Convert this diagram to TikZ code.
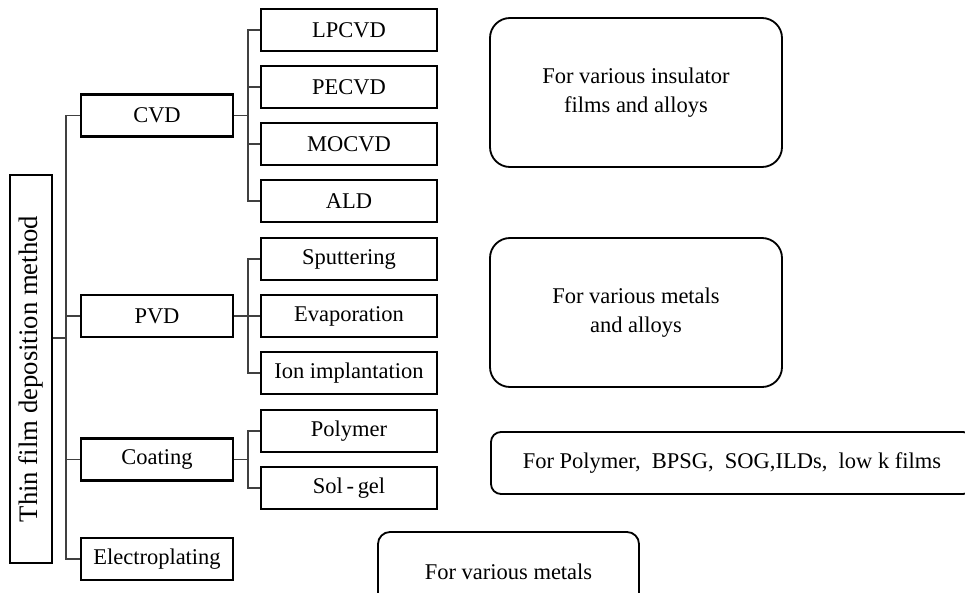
\documentclass[tikz,border=0pt]{standalone}
\usepackage{fontspec}
\setmainfont{Liberation Serif}
\begin{document}
\begin{tikzpicture}
% Define styles
\tikzset{
    box/.style={rectangle, draw=black, line width=1.6pt, minimum height=1.05cm, inner sep=0pt, font=\fontsize{16}{21}\selectfont},
    group/.style={box, minimum width=3.8cm},
    method/.style={box, minimum width=4.4cm},
    usage/.style={rectangle, draw=black, line width=1.3pt, rounded corners=0.5cm, align=center, inner sep=0pt, font=\fontsize{16}{21}\selectfont},
    link/.style={draw=black!75, line width=0.9pt}
}

% Page frame
\clip (0,0) rectangle (24.125,-14.8);

% Root box
\node[box, rotate=90, minimum width=9.7cm, font=\fontsize{19}{23}\selectfont] (root) at (0.775,-9.225) {Thin film deposition method};

% First level
\node[group] (cvd) at (3.925,-2.8875) {CVD};
\node[group] (pvd) at (3.925,-7.9) {PVD};
\node[group] (coat) at (3.925,-11.4875) {Coating};
\node[group] (plate) at (3.925,-13.975) {Electroplating};

% Second level
\foreach \name/\y/\txt in {lpcvd/-0.75/LPCVD, pecvd/-2.175/PECVD, mocvd/-3.6/MOCVD, ald/-5.025/ALD,
    sput/-6.475/Sputtering, evap/-7.9/Evaporation, ion/-9.325/Ion implantation,
    poly/-10.775/Polymer, solgel/-12.2/Sol\,-\,gel} {
    \node[method] (\name) at (8.725,\y) {\txt};
}

% Trunk
\coordinate (trunk) at (1.65,-8.45);
\draw[link] (root.south |- trunk) -- (trunk);
\foreach \n in {cvd, pvd, coat, plate} {
    \draw[link] (trunk) |- (\n.west);
}

% Branches
\foreach \n in {lpcvd, pecvd, mocvd, ald} {
    \draw[link] (cvd.east) -- ++(0.35,0) |- (\n.west);
}
\foreach \n in {sput, evap, ion} {
    \draw[link] (pvd.east) -- ++(0.35,0) |- (\n.west);
}
\foreach \n in {poly, solgel} {
    \draw[link] (coat.east) -- ++(0.35,0) |- (\n.west);
}

% Applications
\node[usage, minimum width=7.3cm, minimum height=3.725cm] (insul) at (15.9,-2.3125) {For various insulator\\films and alloys};
\node[usage, minimum width=7.3cm, minimum height=3.725cm] (metal) at (15.9,-7.8125) {For various metals\\and alloys};
\node[usage, rounded corners=0.25cm, minimum width=12.05cm, minimum height=1.55cm] (films) at (18.3,-11.575) {For Polymer,~ BPSG,~ SOG,ILDs,~ low k films};
\node[usage, rounded corners=0.3cm, minimum width=6.525cm, minimum height=2cm] (plating) at (12.7125,-14.3) {For various metals};

\end{tikzpicture}
\end{document}
